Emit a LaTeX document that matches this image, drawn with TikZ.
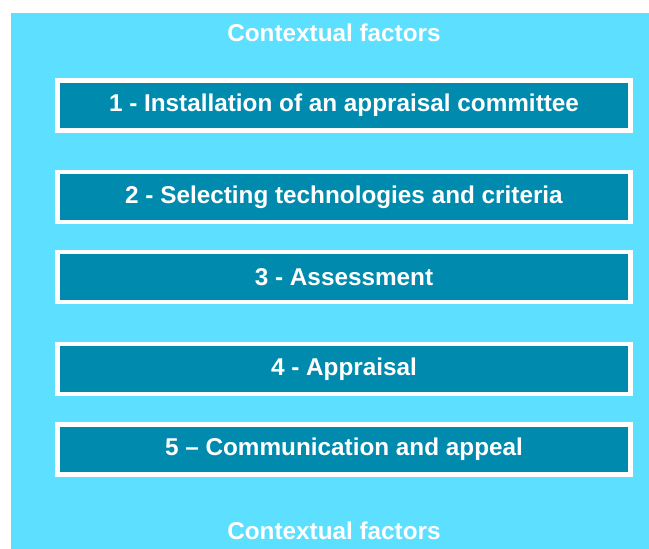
\documentclass[tikz,border=0pt]{standalone}
\usepackage{fontspec}
\setmainfont{Liberation Sans}
\usetikzlibrary{shadows}
\definecolor{skyback}{HTML}{5DDFFF}
\definecolor{stepteal}{HTML}{008BAE}
\tikzset{
    phasebox/.style={draw=white, line width=4.5pt, fill=stepteal, minimum width=573pt, minimum height=50pt,
        text=white, font=\bfseries\fontsize{24.3}{28}\selectfont,
        drop shadow={shadow xshift=1.5pt, shadow yshift=-1.5pt, opacity=.35, fill=black!60}},
    factor/.style={text=white, font=\bfseries\fontsize{24.3}{28}\selectfont}
}
\begin{document}
\begin{tikzpicture}[x=1pt, y=1pt]
            \useasboundingbox(0, 0)rectangle(649, 549);
            \fill[skyback](11, 0)rectangle(649, 536);
            \node[factor](top)at(334, 516){Contextual factors};
            \node[factor](bottom)at(334, 18){Contextual factors};
            \node[phasebox](s1)at(344, 443.5){1 - Installation of an appraisal committee};
            \node[phasebox](s2)at(344, 352){2 - Selecting technologies and criteria};
            \node[phasebox](s3)at(344, 272){3 - Assessment};
            \node[phasebox](s4)at(344, 180){4 - Appraisal};
            \node[phasebox](s5)at(344, 99.5){5 -- Communication and appeal};
        \end{tikzpicture}
\end{document}
